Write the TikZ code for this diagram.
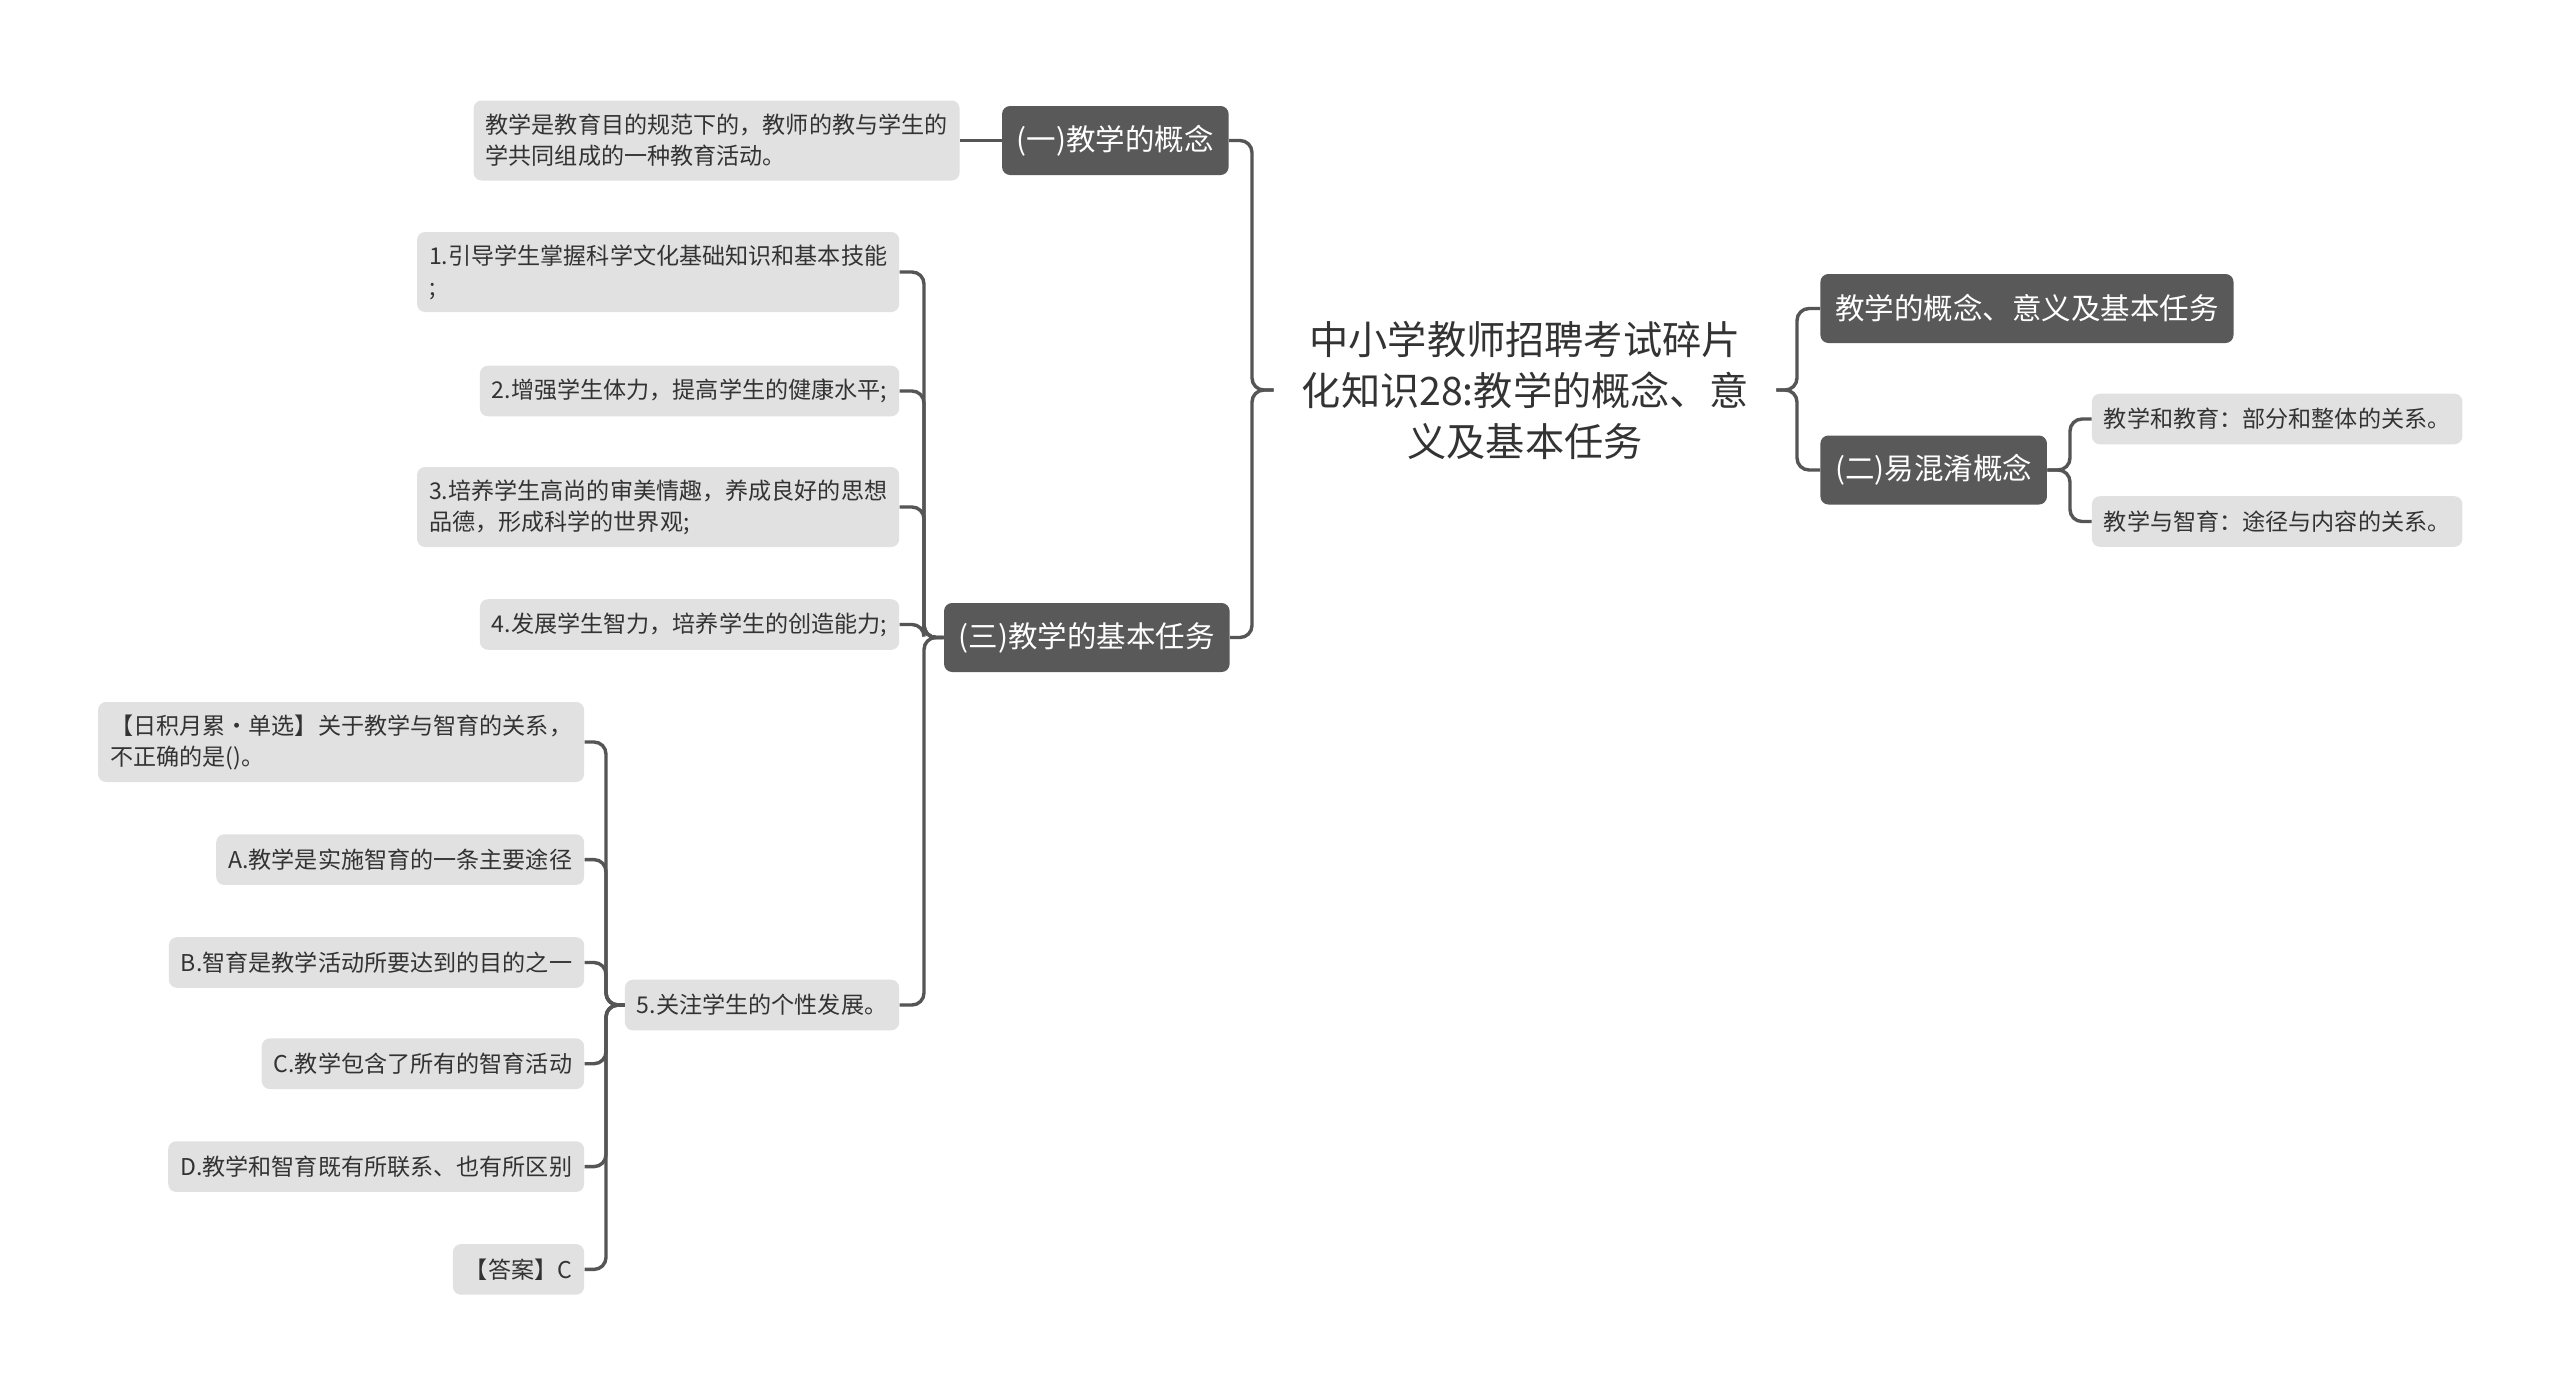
\documentclass[tikz,border=0pt]{standalone}
\usepackage{fontspec}
\setmainfont{Noto Sans CJK SC}
\definecolor{darkbox}{HTML}{595959}
\definecolor{lightbox}{HTML}{E1E1E1}
\definecolor{linec}{HTML}{555555}
\definecolor{txt}{HTML}{333333}
\begin{document}
\begin{tikzpicture}[x=0.5pt,y=-0.5pt,
  dark/.style={fill=darkbox, text=white, rounded corners=4pt, minimum height=34.5pt,
    inner xsep=7.4pt, inner ysep=2pt, font=\fontsize{14.75}{18}\selectfont},
  leaf/.style={fill=lightbox, text=txt, rounded corners=4pt, minimum height=25.3pt,
    inner xsep=6pt, inner ysep=2pt, align=left, font=\fontsize{11.55}{15.5}\selectfont},
  leaftwo/.style={leaf, minimum height=40pt},
  conn/.style={draw=linec, line width=1.7pt, rounded corners=6pt},
]
\useasboundingbox (0,0) rectangle (2560,1394);
\fill[white] (0,0) rectangle (2560,1394);

% trunk x positions
\coordinate (tl) at (1252,0);
\coordinate (tr) at (1797,0);
\coordinate (tthree) at (924,0);
\coordinate (tfive) at (606,0);
\coordinate (ttwo) at (2070,0);

% root
\node[align=center, text width=251pt, inner sep=0pt, text=txt,
  font=\fontsize{19.6}{25.5}\selectfont] (root) at (1525,390)
  {中小学教师招聘考试碎片\\化知识28:教学的概念、意\\义及基本任务};

% main branches
\node[dark, anchor=east] (n1) at (1229,140.5) {(一)教学的概念};
\node[dark, anchor=east] (n3) at (1230,637.5) {(三)教学的基本任务};
\node[dark, anchor=west] (r1) at (1820,308.5) {教学的概念、意义及基本任务};
\node[dark, anchor=west] (r2) at (1820,470) {(二)易混淆概念};

% leaves
\node[leaftwo, anchor=east] (l0) at (960,140.5) {教学是教育目的规范下的，教师的教与学生的\\学共同组成的一种教育活动。};

\node[leaftwo, anchor=east] (t1) at (899.6,272) {1.引导学生掌握科学文化基础知识和基本技能\\;};
\node[leaf, anchor=east] (t2) at (899.6,391) {2.增强学生体力，提高学生的健康水平;};
\node[leaftwo, anchor=east] (t3) at (899.6,507) {3.培养学生高尚的审美情趣，养成良好的思想\\品德，形成科学的世界观;};
\node[leaf, anchor=east] (t4) at (899.6,624.5) {4.发展学生智力，培养学生的创造能力;};
\node[leaf, anchor=east] (t5) at (899.6,1005) {5.关注学生的个性发展。};

\node[leaftwo, anchor=east] (q0) at (584.5,742) {【日积月累·单选】关于教学与智育的关系，\\不正确的是()。};
\node[leaf, anchor=east] (qa) at (584.5,859.6) {A.教学是实施智育的一条主要途径};
\node[leaf, anchor=east] (qb) at (584.5,962.5) {B.智育是教学活动所要达到的目的之一};
\node[leaf, anchor=east] (qc) at (584.5,1063.7) {C.教学包含了所有的智育活动};
\node[leaf, anchor=east] (qd) at (584.5,1166.6) {D.教学和智育既有所联系、也有所区别};
\node[leaf, anchor=east] (qe) at (584.5,1269.4) {【答案】C};

\node[leaf, anchor=west] (s1) at (2091.5,419) {教学和教育：部分和整体的关系。};
\node[leaf, anchor=west] (s2) at (2091.5,521.5) {教学与智育：途径与内容的关系。};

% connectors
\foreach \c in {n1,n3}
  \draw[conn] (root.west) -- (root.west -| tl) -- (tl |- \c.east) -- (\c.east);
\foreach \c in {r1,r2}
  \draw[conn] (root.east) -- (root.east -| tr) -- (tr |- \c.west) -- (\c.west);
\draw[conn] (l0.east) -- (n1.west);
\foreach \c in {t1,t2,t3,t4,t5}
  \draw[conn] (n3.west) -- (n3.west -| tthree) -- (tthree |- \c.east) -- (\c.east);
\foreach \c in {q0,qa,qb,qc,qd,qe}
  \draw[conn] (t5.west) -- (t5.west -| tfive) -- (tfive |- \c.east) -- (\c.east);
\foreach \c in {s1,s2}
  \draw[conn] (r2.east) -- (r2.east -| ttwo) -- (ttwo |- \c.west) -- (\c.west);
\end{tikzpicture}
\end{document}
